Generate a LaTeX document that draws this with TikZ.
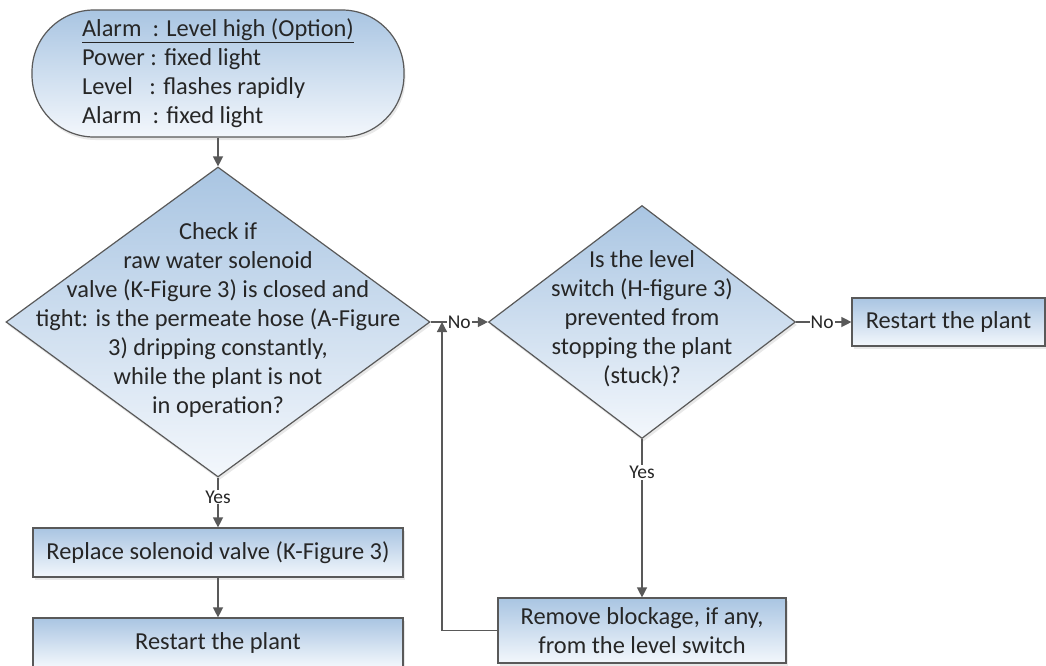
\documentclass[tikz,border=0pt]{standalone}
\usepackage{fontspec}
\setmainfont{Carlito}
\usetikzlibrary{shapes.geometric,arrows.meta,shadows}
\definecolor{topc}{HTML}{A9C5E2}
\definecolor{botc}{HTML}{F3F7FC}
\definecolor{edgec}{HTML}{595959}
\definecolor{txtc}{HTML}{262626}
\begin{document}
\begin{tikzpicture}[x=1pt,y=-1pt,
  every node/.style={font=\fontsize{24.4}{29}\selectfont, text=txtc},
  shapebase/.style={draw=edgec, line width=1.2pt, top color=topc, bottom color=botc,
    drop shadow={opacity=0.18, shadow xshift=1.5pt, shadow yshift=-3pt}},
  procbox/.style={shapebase, rectangle, inner sep=0pt, align=center},
  decision/.style={shapebase, diamond, inner sep=0pt},
  termbox/.style={shapebase, rectangle, rounded corners=62pt, inner sep=0pt, align=left},
  arr/.style={draw=edgec, line width=1.3pt, -{Triangle[length=10pt,width=10pt]}},
  lbl/.style={fill=white, inner sep=1pt, font=\fontsize{19.5}{21}\selectfont}]
\useasboundingbox[fill=white] (0,0) rectangle (1046,665);

% start terminator
\node[termbox, minimum width=372pt, minimum height=127pt] (t) at (218,73.5)
  {\underline{Alarm\ \ : Level high (Option)}\\Power : fixed light\\Level\ \ \ : flashes rapidly\\Alarm\ \ : fixed light};

% decision 1
\node[decision, minimum width=424pt, minimum height=310pt] (d1) at (218,322) {};
\node[align=center] (d1t) at (218,320) {Check if\\raw water solenoid\\valve (K-Figure 3) is closed and\\tight: is the permeate hose (A-Figure\\3) dripping constantly,\\while the plant is not\\in operation?};

% decision 2
\node[decision, minimum width=307pt, minimum height=233pt] (d2) at (642,322) {};
\node[align=center] (d2t) at (642,319) {Is the level\\switch (H-figure 3)\\prevented from\\stopping the plant\\(stuck)?};

% boxes
\node[procbox, minimum width=370pt, minimum height=49pt] (b1) at (218,552.5) {Replace solenoid valve (K-Figure 3)};
\node[procbox, minimum width=370pt, minimum height=49pt] (b2) at (218,642.5) {Restart the plant};
\node[procbox, minimum width=193pt, minimum height=48pt] (rb) at (948.5,322) {Restart the plant};
\node[procbox, minimum width=288pt, minimum height=65pt] (b3) at (642,630.5) {Remove blockage, if any,\\from the level switch};

% connectors
\draw[arr] (t.south) -- (d1.north);
\draw[arr] (d1.south) -- node[lbl, pos=0.39] (y1) {Yes} (b1.north);
\draw[arr] (b1.south) -- (b2.north);
\draw[arr] (d1.east) -- node[lbl, pos=0.5] (n1) {No} (d2.west);
\draw[arr] (d2.east) -- node[lbl, pos=0.47] (n2) {No} (rb.west);
\draw[arr] (d2.south) -- node[lbl, pos=0.21] (y2) {Yes} (b3.north);
\coordinate (j) at (442,322);
\draw[arr] (b3.west) -| (j);
\end{tikzpicture}
\end{document}
